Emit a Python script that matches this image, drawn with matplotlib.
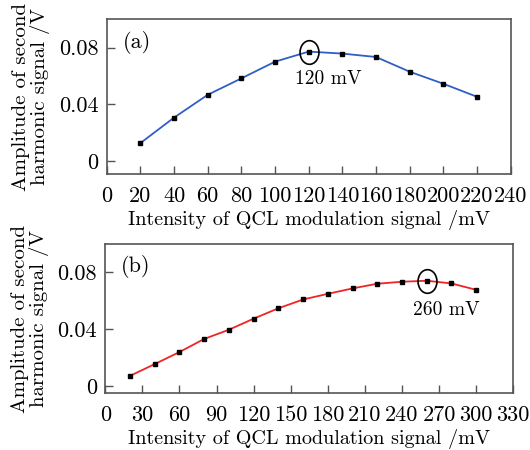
#second harmonic amplitude vs QCL modulation intensity
import numpy as np
import matplotlib
matplotlib.use("Agg")
import matplotlib.pyplot as plt
from matplotlib.path import Path

plt.rcParams['font.family'] = 'cmr10'
plt.rcParams['mathtext.fontset'] = 'cm'
plt.rcParams['axes.formatter.use_mathtext'] = True

#data
x_a = [20, 40, 60, 80, 100, 120, 140, 160, 180, 200, 220]
y_a = [0.0126, 0.0306, 0.0467, 0.0583, 0.0701, 0.0772, 0.0758, 0.0734, 0.0630, 0.0545, 0.0453]
x_b = [20, 40, 60, 80, 100, 120, 140, 160, 180, 200, 220, 240, 260, 280, 300]
y_b = [0.0071, 0.0154, 0.0239, 0.0331, 0.0396, 0.0474, 0.0547, 0.0609, 0.0649,
       0.0687, 0.0720, 0.0734, 0.0741, 0.0722, 0.0677]
xticks_a = list(range(0, 241, 20))
xticks_b = list(range(0, 331, 30))
yticks = [0, 0.04, 0.08]
ytick_labels = ['0', '0.04', '0.08']
peak_a = (120, 0.0772, '120 mV')
peak_b = (260, 0.0741, '260 mV')

SPINE = '#555555'
circ = Path.unit_circle()
ellipse = Path(circ.vertices * np.array([0.8, 1.0]), circ.codes)

fig = plt.figure(figsize=(5.3, 4.5), dpi=100)
ax1 = fig.add_axes([0.2013, 0.6133, 0.7623, 0.3438])
ax2 = fig.add_axes([0.1987, 0.1260, 0.7698, 0.3318])

panels = [
    (ax1, x_a, y_a, '#2f5fc4', xticks_a, (0, 240), (-0.0092, 0.1), peak_a, (131.5, 0.0575), '(a)'),
    (ax2, x_b, y_b, '#f02424', xticks_b, (0, 330), (-0.0052, 0.1), peak_b, (276, 0.0536), '(b)'),
]

for ax, x, y, col, xt, xl, yl, peak, txt_pos, tag in panels:
    ax.plot(x, y, '-', color=col, lw=1.3, zorder=2)
    ax.plot(x, y, 's', color='black', ms=3.4, zorder=3)
    ax.plot([peak[0]], [peak[1]], marker=ellipse, ms=17, mfc='none', mec='black', mew=1.2, zorder=4)
    ax.text(txt_pos[0], txt_pos[1], peak[2], fontsize=14, ha='center', va='center')
    ax.text(0.074, 0.849, tag, transform=ax.transAxes, fontsize=16, ha='center', va='center')
    ax.set_xlim(*xl)
    ax.set_ylim(*yl)
    ax.set_xticks(xt)
    ax.set_xticklabels([str(v) for v in xt])
    ax.set_yticks(yticks)
    ax.set_yticklabels(ytick_labels)
    ax.tick_params(direction='in', length=6, width=1, color=SPINE, labelsize=16, pad=6)
    ax.tick_params(axis='x', pad=9)
    for s in ax.spines.values():
        s.set_color(SPINE)
        s.set_linewidth(1.2)
    ax.set_xlabel('Intensity of QCL modulation signal /mV', fontsize=14.5, labelpad=3)
    ax.set_ylabel('Amplitude of second\nharmonic signal /V', fontsize=15, linespacing=1.0, labelpad=6)

fig.savefig('out.png', dpi=100)
